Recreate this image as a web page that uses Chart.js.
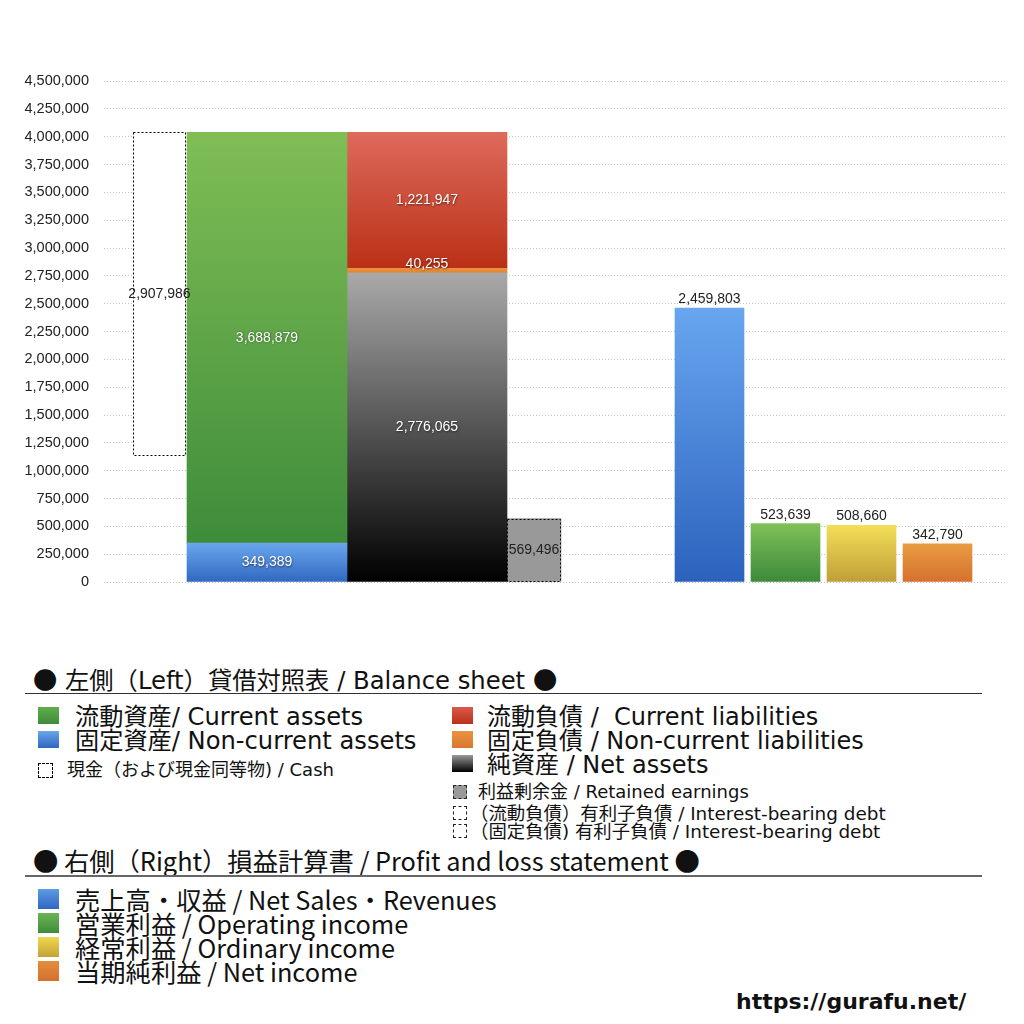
<!DOCTYPE html>
<html>
<head>
<meta charset="utf-8">
<script src="https://cdn.jsdelivr.net/npm/chart.js@4/dist/chart.umd.min.js"></script>
<style>
  body { margin: 0; background: #fff; width: 1024px; height: 1024px; position: relative; overflow: hidden; }
  #wrap { position: absolute; left: 0; top: 0; width: 1024px; height: 640px; }
  .t { position: absolute; white-space: nowrap; font-family: "DejaVu Sans", "Noto Sans CJK JP", sans-serif; color: #111; line-height: 24px; }
  .c { font-family: "Noto Sans CJK JP", sans-serif; }
  .sw { position: absolute; }
  .hr { position: absolute; left: 25px; width: 957px; }
</style>
</head>
<body>
<div id="wrap"><canvas id="myChart"></canvas></div>

<!-- 凡例（HTML） -->
<div class="t" style="top:667px;left:33px;font-size:24.3px"><span class="c">●</span> 左側（Left）貸借対照表 / Balance sheet <span class="c">●</span></div>
<div class="hr" style="top:693px;height:1px;background:#333"></div>

<div class="sw" style="left:38px;top:707px;width:21px;height:17px;background:linear-gradient(#5fae4b,#3e8c3a)"></div>
<div class="t" style="top:705px;left:75px;font-size:24.2px">流動資産/ Current assets</div>
<div class="sw" style="left:38px;top:731px;width:21px;height:17px;background:linear-gradient(#6aa6ec,#2f66c0)"></div>
<div class="t" style="top:729px;left:75px;font-size:24.2px">固定資産/ Non-current assets</div>
<div class="sw" style="left:38px;top:763px;width:13px;height:13px;border:1px dashed #000"></div>
<div class="t" style="top:758px;left:67px;font-size:18px">現金（および現金同等物) / Cash</div>

<div class="sw" style="left:452px;top:707px;width:21px;height:17px;background:linear-gradient(#d9594a,#bb3118)"></div>
<div class="t" style="top:705px;left:487px;font-size:24px">流動負債 /&nbsp; Current liabilities</div>
<div class="sw" style="left:452px;top:731px;width:21px;height:17px;background:linear-gradient(#ea9240,#d9782c)"></div>
<div class="t" style="top:729px;left:487px;font-size:24px">固定負債 / Non-current liabilities</div>
<div class="sw" style="left:452px;top:755px;width:21px;height:17px;background:linear-gradient(#9a9a9a,#000)"></div>
<div class="t" style="top:753px;left:487px;font-size:24px">純資産 / Net assets</div>
<div class="sw" style="left:453px;top:785px;width:12px;height:12px;border:1px dashed #222;background:#999"></div>
<div class="t" style="top:780px;left:478px;font-size:18px">利益剰余金 / Retained earnings</div>
<div class="sw" style="left:453px;top:806px;width:12px;height:12px;border:1px dashed #222"></div>
<div class="t" style="top:802px;left:470px;font-size:18.4px">（流動負債）有利子負債 / Interest-bearing debt</div>
<div class="sw" style="left:453px;top:824px;width:12px;height:12px;border:1px dashed #222"></div>
<div class="t" style="top:820px;left:470px;font-size:18.4px">（固定負債) 有利子負債 / Interest-bearing debt</div>

<div class="t c" style="top:848px;left:33px;font-size:25.3px">● 右側（Right）損益計算書 / Profit and loss statement ●</div>
<div class="hr" style="top:875px;height:2px;background:#666"></div>

<div class="sw" style="left:38px;top:889px;width:21px;height:20px;background:linear-gradient(#5f9be6,#2f66c0)"></div>
<div class="t c" style="top:887px;left:75px;font-size:25.3px">売上高・収益 / Net Sales・Revenues</div>
<div class="sw" style="left:38px;top:913px;width:21px;height:20px;background:linear-gradient(#6cb556,#3e8c3a)"></div>
<div class="t c" style="top:911px;left:75px;font-size:25.3px">営業利益 / Operating income</div>
<div class="sw" style="left:38px;top:937px;width:21px;height:20px;background:linear-gradient(#f0d84e,#c3a238)"></div>
<div class="t c" style="top:935px;left:75px;font-size:25.3px">経常利益 / Ordinary income</div>
<div class="sw" style="left:38px;top:961px;width:21px;height:20px;background:linear-gradient(#e58e3c,#d46f2e)"></div>
<div class="t c" style="top:959px;left:75px;font-size:25.3px">当期純利益 / Net income</div>

<div class="t" style="top:990px;left:736px;font-size:22px;font-weight:bold">https://gurafu.net/</div>

<script>
// 貸借対照表（左側）
const assetLabels = ['固定資産', '流動資産'];          // 下 → 上
const assetValues = [349389, 3688879];
const liabilityLabels = ['純資産', '固定負債', '流動負債']; // 下 → 上
const liabilityValues = [2776065, 40255, 1221947];
const cashValues = [2907986];
const retainedValues = [569496];

// 損益計算書（右側）
const plLabels = ['売上高・収益', '営業利益', '経常利益', '当期純利益'];
const plValues = [2459803, 523639, 508660, 342790];

// 軸
const yMax = 4500000;
const yStep = 250000;

// 配置（x軸の単位）
const slotX = { cash: 55.5, assets: 163, liab: 323, retained: 430, pl: [605.5, 681.5, 757.5, 833.5] };
const slotW = { cash: 53, assets: 160, liab: 160, retained: 54, pl: 69 };

const totalAssets = assetValues[0] + assetValues[1];

// 縦グラデーション
function vGrad(chart, fromVal, toVal, top, bottom) {
    const y = chart.scales.y;
    if (!y || !chart.chartArea) return bottom;
    const g = chart.ctx.createLinearGradient(0, y.getPixelForValue(toVal), 0, y.getPixelForValue(fromVal));
    g.addColorStop(0, top);
    g.addColorStop(1, bottom);
    return g;
}

function stackedDatasets(x, w, stack, labels, values, colors, labelMode) {
    let base = 0;
    return values.map((v, i) => {
        const from = base;
        base += v;
        return {
            label: labels[i],
            data: [{ x, y: v }],
            stack,
            barThickness: w,
            backgroundColor: c => vGrad(c.chart, from, from + v, colors[i][0], colors[i][1]),
            valueLabel: v,
            labelMode
        };
    });
}

const datasets = [
    ...stackedDatasets(slotX.assets, slotW.assets, 'a', assetLabels, assetValues,
        [['#6aa6ec', '#3068c2'], ['#80be55', '#3e8c3a']], 'white'),
    ...stackedDatasets(slotX.liab, slotW.liab, 'l', liabilityLabels, liabilityValues,
        [['#a9a9a9', '#000000'], ['#ec9440', '#e08030'], ['#de6a5c', '#ba3016']], 'white'),
    {
        label: '現金',
        data: [{ x: slotX.cash, y: [totalAssets - cashValues[0], totalAssets] }],
        stack: 'c',
        barThickness: slotW.cash,
        backgroundColor: '#ffffff',
        valueLabel: cashValues[0],
        labelMode: 'black',
        dashed: true
    },
    {
        label: '利益剰余金',
        data: [{ x: slotX.retained, y: retainedValues[0] }],
        stack: 'r',
        barThickness: slotW.retained,
        backgroundColor: '#999999',
        valueLabel: retainedValues[0],
        labelMode: 'black',
        dashed: true
    }
];

const plColors = [['#68a6f0', '#2c62bd'], ['#80c058', '#3b8a3b'], ['#f3de58', '#bf9f38'], ['#e99c42', '#d6702e']];
plValues.forEach((v, i) => {
    datasets.push({
        label: plLabels[i],
        data: [{ x: slotX.pl[i], y: v }],
        stack: 'p' + i,
        barThickness: slotW.pl,
        backgroundColor: c => vGrad(c.chart, 0, v, plColors[i][0], plColors[i][1]),
        valueLabel: v,
        labelMode: 'top'
    });
});

const fmt = v => v.toLocaleString('en-US');

// 破線の枠と数値ラベル
const barDecorations = {
    id: 'barDecorations',
    afterDatasetsDraw(chart) {
        const ctx = chart.ctx;
        chart.data.datasets.forEach((ds, di) => {
            const meta = chart.getDatasetMeta(di);
            meta.data.forEach(el => {
                const { x, y, base, width } = el.getProps(['x', 'y', 'base', 'width'], true);
                const top = Math.min(y, base), bottom = Math.max(y, base);
                ctx.save();
                if (ds.dashed) {
                    ctx.strokeStyle = '#000';
                    ctx.lineWidth = 1;
                    ctx.setLineDash([2, 2]);
                    ctx.strokeRect(Math.round(x - width / 2) + 0.5, Math.round(top) + 0.5, Math.round(width) - 1, Math.round(bottom - top) - 1);
                    ctx.setLineDash([]);
                }
                ctx.font = '14px "Liberation Sans", Arial, sans-serif';
                ctx.textAlign = 'center';
                ctx.textBaseline = 'middle';
                const text = fmt(ds.valueLabel);
                if (ds.labelMode === 'top') {
                    ctx.fillStyle = '#222';
                    ctx.fillText(text, x, top - 9);
                } else if (ds.labelMode === 'black') {
                    ctx.fillStyle = '#222';
                    ctx.fillText(text, x, (top + bottom) / 2);
                } else {
                    const cy = (bottom - top) < 12 ? top - 4 : (top + bottom) / 2;
                    ctx.shadowColor = 'rgba(0,0,0,0.55)';
                    ctx.shadowBlur = 2;
                    ctx.shadowOffsetX = 0.5;
                    ctx.shadowOffsetY = 0.5;
                    ctx.fillStyle = '#fff';
                    ctx.fillText(text, x, cy);
                }
                ctx.restore();
            });
        });
    }
};

const ctx = document.getElementById('myChart').getContext('2d');

const myChart = new Chart(ctx, {
    type: 'bar',
    data: { datasets },
    options: {
        responsive: true,
        maintainAspectRatio: false,
        animation: false,
        layout: { padding: { top: 81, right: 18, bottom: 58, left: 0 } },
        datasets: { bar: { grouped: false, borderWidth: 0 } },
        plugins: { legend: { display: false }, tooltip: { enabled: false } },
        scales: {
            x: { type: 'linear', display: false, offset: false, min: 0, max: 902 },
            y: {
                stacked: true,
                min: 0,
                max: yMax,
                afterFit: scale => { scale.width = 104; },
                ticks: {
                    stepSize: yStep,
                    padding: 15,
                    color: '#222',
                    font: { family: '"Liberation Sans", Arial, sans-serif', size: 14.5 },
                    callback: v => fmt(v)
                },
                grid: { color: '#c4c4c4', drawTicks: false },
                border: { display: false, dash: [1, 2] }
            }
        }
    },
    plugins: [barDecorations]
});
</script>
</body>
</html>
